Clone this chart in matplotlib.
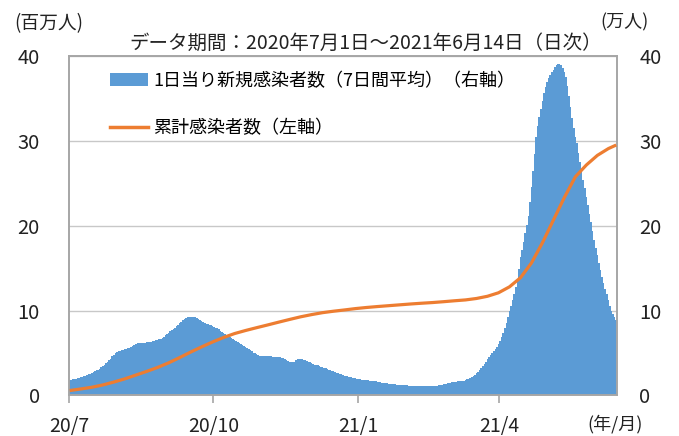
import numpy as np
import pandas as pd
import matplotlib
matplotlib.use('Agg')
import matplotlib.pyplot as plt
from matplotlib.patches import Patch
from matplotlib.lines import Line2D

plt.rcParams['font.family'] = ['Noto Sans CJK JP', 'DejaVu Sans']

# 1日当り新規感染者数（7日間平均）, 万人, 2020/7/1 - 2021/6/14
jul20 = [1.80, 1.85, 1.90, 1.95, 2.00, 2.05, 2.10, 2.15, 2.20, 2.28, 2.35, 2.42, 2.50, 2.58, 2.66, 2.75,
         2.85, 2.95, 3.05, 3.15, 3.30, 3.45, 3.60, 3.78, 3.95, 4.15, 4.35, 4.60, 4.80, 5.00, 5.15]
aug20 = [5.25, 5.30, 5.35, 5.40, 5.45, 5.50, 5.55, 5.60, 5.70, 5.80, 5.95, 6.05, 6.15, 6.20, 6.20, 6.20,
         6.20, 6.20, 6.25, 6.25, 6.30, 6.35, 6.40, 6.45, 6.50, 6.55, 6.60, 6.70, 6.80, 6.95, 7.10]
sep20 = [7.25, 7.40, 7.55, 7.70, 7.85, 8.00, 8.15, 8.30, 8.50, 8.70, 8.90, 9.05, 9.15, 9.20, 9.25, 9.30,
         9.30, 9.25, 9.20, 9.15, 9.05, 8.95, 8.80, 8.65, 8.55, 8.45, 8.40, 8.35, 8.30, 8.20]
oct20 = [8.10, 8.00, 7.90, 7.80, 7.65, 7.50, 7.40, 7.25, 7.15, 7.05, 6.95, 6.80, 6.65, 6.50, 6.40, 6.30,
         6.20, 6.10, 5.95, 5.80, 5.70, 5.55, 5.45, 5.35, 5.20, 5.05, 4.95, 4.85, 4.75, 4.70, 4.65]
nov20 = [4.60, 4.60, 4.60, 4.60, 4.60, 4.60, 4.55, 4.55, 4.55, 4.55, 4.50, 4.50, 4.45, 4.40, 4.30, 4.20,
         4.05, 3.95, 3.90, 3.90, 4.00, 4.15, 4.25, 4.30, 4.30, 4.25, 4.20, 4.15, 4.05, 3.95]
dec20 = [3.90, 3.80, 3.70, 3.65, 3.60, 3.55, 3.50, 3.40, 3.35, 3.25, 3.20, 3.10, 3.05, 3.00, 2.90, 2.85,
         2.75, 2.70, 2.60, 2.55, 2.50, 2.45, 2.35, 2.30, 2.25, 2.20, 2.15, 2.10, 2.05, 2.05, 2.00]
jan21 = [1.95, 1.90, 1.88, 1.85, 1.82, 1.80, 1.78, 1.75, 1.72, 1.70, 1.68, 1.65, 1.60, 1.58, 1.55, 1.50,
         1.48, 1.45, 1.42, 1.40, 1.38, 1.35, 1.32, 1.30, 1.25, 1.22, 1.20, 1.20, 1.20, 1.18, 1.18]
feb21 = [1.18, 1.15, 1.15, 1.15, 1.15, 1.12, 1.12, 1.10, 1.10, 1.10, 1.10, 1.10, 1.10, 1.10, 1.10, 1.10,
         1.10, 1.10, 1.12, 1.15, 1.18, 1.20, 1.25, 1.30, 1.35, 1.40, 1.45, 1.50]
mar21 = [1.55, 1.58, 1.60, 1.62, 1.65, 1.67, 1.68, 1.70, 1.72, 1.80, 1.90, 2.00, 2.10, 2.20, 2.30, 2.45,
         2.60, 2.80, 3.00, 3.25, 3.50, 3.75, 4.00, 4.25, 4.50, 4.75, 5.00, 5.25, 5.50, 5.75, 6.05]
apr21 = [6.45, 6.90, 7.40, 7.95, 8.60, 9.25, 9.90, 10.60, 11.30, 12.00, 12.80, 13.60, 14.90, 16.30, 17.20,
         18.10, 19.10, 20.10, 21.10, 22.80, 24.60, 26.50, 28.50, 30.50, 31.70, 32.80, 33.80, 34.70, 35.60, 36.30]
may21 = [36.90, 37.40, 37.80, 38.10, 38.40, 38.70, 38.90, 39.10, 39.10, 38.90, 38.60, 38.10, 37.50, 36.50,
         35.30, 34.00, 32.70, 31.50, 30.50, 29.70, 28.60, 27.50, 26.40, 25.40, 24.40, 23.40, 22.40, 21.40,
         20.40, 19.40, 18.30]
jun21 = [17.40, 16.50, 15.60, 14.80, 14.00, 13.30, 12.60, 11.90, 11.20, 10.50, 10.00, 9.60, 9.20, 8.90]

daily = jul20 + aug20 + sep20 + oct20 + nov20 + dec20 + jan21 + feb21 + mar21 + apr21 + may21 + jun21
days = pd.date_range('2020-07-01', periods=len(daily), freq='D')

# 累計感染者数, 百万人 (weekly from 7/1, last point 6/14)
cum_total = [0.585, 0.77, 0.97, 1.24, 1.58, 1.96, 2.40, 2.84, 3.31, 3.85, 4.47, 5.12, 5.73, 6.31,
             6.84, 7.30, 7.66, 7.99, 8.31, 8.64, 8.96, 9.27, 9.53, 9.76, 9.93, 10.08, 10.24,
             10.37, 10.48, 10.58, 10.68, 10.78, 10.87, 10.95, 11.05, 11.16, 11.26, 11.43, 11.69,
             12.10, 12.80, 13.87, 15.61, 17.99, 20.67, 23.34, 25.77, 27.16, 28.29, 29.09, 29.51]
cum_dates = list(pd.date_range('2020-07-01', '2021-06-09', freq='7D')) + [pd.Timestamp('2021-06-14')]

tick_dates = pd.to_datetime(['2020-07-01', '2020-10-01', '2021-01-01', '2021-04-01'])
tick_labels = ['20/7', '20/10', '21/1', '21/4']

blue = '#5B9BD5'
orange = '#ED7D31'
grey = '#A6A6A6'
txt = '#222222'

fig = plt.figure(figsize=(6.79, 4.36), dpi=100)
ax = fig.add_axes([0.1016, 0.0929, 0.8071, 0.7787])
ax2 = ax.twinx()

# bars on right axis, below the line
ax2.bar(days, daily, width=1.0, align='edge', color=blue, linewidth=0, zorder=2)
ax2.set_ylim(0, 40)
ax2.set_yticks([0, 10, 20, 30, 40])
ax2.grid(axis='y', color='#C8C8C8', linewidth=1.0, zorder=0)
ax2.set_axisbelow(True)

ax.plot(np.array(cum_dates) + pd.Timedelta(hours=12), cum_total, color=orange, linewidth=2.3,
        solid_capstyle='butt', zorder=3)
ax.set_ylim(0, 40)
ax.set_yticks([0, 10, 20, 30, 40])
ax.set_zorder(ax2.get_zorder() + 1)
ax.patch.set_visible(False)

ax.set_xlim(pd.Timestamp('2020-07-01'), pd.Timestamp('2021-06-15'))
ax.set_xticks(tick_dates)
ax.set_xticklabels(tick_labels)

for a in (ax, ax2):
    for s in a.spines.values():
        s.set_color(grey)
        s.set_linewidth(1.2)

ax.tick_params(axis='x', length=6, width=1.2, color=grey, pad=9, labelsize=14, labelcolor=txt)
ax.tick_params(axis='y', length=0, pad=21, labelsize=14.5, labelcolor=txt)
ax2.tick_params(axis='y', length=0, pad=16, labelsize=14.5, labelcolor=txt)

fig.text(14 / 679, 1 - 24 / 436, '(百万人)', ha='left', va='center', fontsize=13.5, color=txt)
fig.text(600 / 679, 1 - 22 / 436, '(万人)', ha='left', va='center', fontsize=13, color=txt)
fig.text(366 / 679, 1 - 43 / 436, 'データ期間：2020年7月1日～2021年6月14日（日次）',
         ha='center', va='center', fontsize=14, color=txt)
fig.text(615 / 679, 1 - 424 / 436, '(年/月)', ha='center', va='center', fontsize=13, color=txt)

handles = [Patch(facecolor=blue, edgecolor='none'),
           Line2D([], [], color=orange, linewidth=2.5)]
labels = ['1日当り新規感染者数（7日間平均）（右軸）', '累計感染者数（左軸）']
ax.legend(handles, labels, loc='upper left', bbox_to_anchor=(110 / 679, 1 - 72 / 436),
          bbox_transform=fig.transFigure, frameon=False, fontsize=13, borderpad=0,
          borderaxespad=0, handlelength=2.1, handleheight=0.7, handletextpad=0.3,
          labelspacing=1.6)

fig.savefig('out.png', dpi=100)
